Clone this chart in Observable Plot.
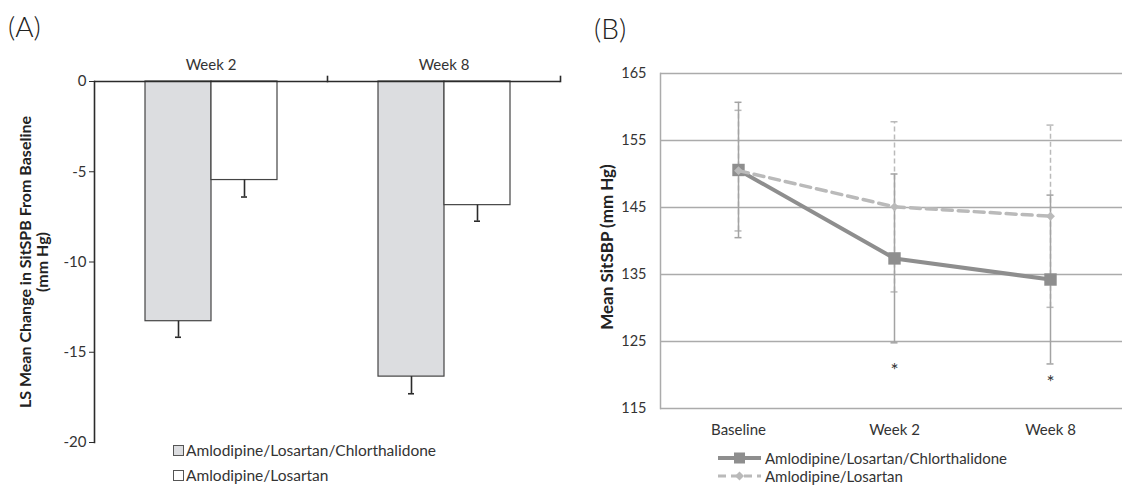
<!DOCTYPE html>
<html><head><meta charset="utf-8">
<script src="https://cdn.jsdelivr.net/npm/d3@7"></script>
<script src="https://cdn.jsdelivr.net/npm/@observablehq/plot@0.6"></script>
<style>
html,body{margin:0;padding:0;background:#fff;}
body{width:1122px;height:488px;overflow:hidden;position:relative;font-family:Lato,"Open Sans",sans-serif;color:#333;}
#a,#b{position:absolute;top:0;}
#a{left:0;} #b{left:560px;}
.tag{position:absolute;font-size:28px;font-weight:300;color:#222;line-height:1;}
.leg{position:absolute;color:#333;white-space:nowrap;line-height:16px;height:16px;display:flex;align-items:center;}
.leg svg{display:block;margin-right:2px;}
</style></head><body>
<div id="a"></div><div id="b"></div>
<div class="tag" style="left:8px;top:12px">(A)</div>
<div class="tag" style="left:594px;top:14px">(B)</div>
<div id="legA"></div><div id="legB"></div>
<script>
// ---------- data ----------
const seriesNames = ["Amlodipine/Losartan/Chlorthalidone", "Amlodipine/Losartan"];

// Panel A: LS mean change from baseline
const weeksA = ["Week 2", "Week 8"];
const changeTriple = [-13.28, -16.35];
const changeDual = [-5.46, -6.85];
const errTriple = [0.89, 0.95];
const errDual = [0.94, 0.89];
const yTicksA = [0, -5, -10, -15, -20];

// Panel B: mean SitSBP
const timepoints = ["Baseline", "Week 2", "Week 8"];
const meanTriple = [150.6, 137.4, 134.25];
const meanDual = [150.5, 145.1, 143.7];
const errBTriple = [10.1, 12.6, 12.6];
const errBDual = [9.0, 12.7, 13.6];
const starTimes = ["Week 2", "Week 8"];
const starLevels = [121.3, 119.5];
const yTicksB = [115, 125, 135, 145, 155, 165];

const fontStack = "Lato, 'Open Sans', sans-serif";

// ---------- panel A ----------
const fillA = ["#dcdde0", "#ffffff"];
const rowsA = weeksA.flatMap((w, i) => [
  {week: w, series: seriesNames[0], value: changeTriple[i], err: errTriple[i]},
  {week: w, series: seriesNames[1], value: changeDual[i], err: errDual[i]}
]);
const ink = "#2b2b2b";
const yMidA = (yTicksA[0] + yTicksA[yTicksA.length - 1]) / 2;
const chartA = Plot.plot({
  width: 562, height: 462,
  marginLeft: 93, marginRight: 2, marginTop: 81, marginBottom: 20,
  style: {fontFamily: fontStack, color: "#333", background: "transparent"},
  fx: {domain: weeksA, padding: 0, label: null},
  x: {domain: seriesNames, paddingInner: 0, paddingOuter: 0.75, axis: null},
  y: {domain: [-20, 0]},
  color: {domain: seriesNames, range: fillA},
  marks: [
    Plot.barY(rowsA, {fx: "week", x: "series", y: "value", fill: "series", stroke: "#444", strokeWidth: 1.2}),
    Plot.ruleX(rowsA, {fx: "week", x: "series", y1: "value", y2: d => d.value - d.err, stroke: ink, strokeWidth: 1.6}),
    Plot.tickY(rowsA, {fx: "week", x: "series", y: d => d.value - d.err, stroke: ink, strokeWidth: 1.6, insetLeft: 30, insetRight: 30}),
    Plot.ruleY([0], {stroke: ink, strokeWidth: 1.6}),
    Plot.frame({anchor: "right", insetTop: -5, insetBottom: 361, stroke: ink, strokeWidth: 1.6}),
    Plot.frame({anchor: "left", fx: [weeksA[0]], stroke: ink, strokeWidth: 1.6}),
    Plot.axisY({ticks: yTicksA, tickSize: 5, tickPadding: 3, tickFormat: d => String(d), fontSize: 15, label: null, stroke: ink}),
    Plot.axisFx({anchor: "top", tickSize: 0, tickPadding: 12, fontSize: 15, label: null}),
    Plot.text([{week: weeksA[0], y: yMidA, t: "LS Mean Change in SitSPB From Baseline\n(mm Hg)"}], {
      fx: "week", y: "y", text: "t", frameAnchor: "left", textAnchor: "middle", rotate: -90, dx: -60, lineHeight: 1.05,
      fontWeight: "bold", fontSize: 16, fill: "#222"
    })
  ]
});
document.getElementById("a").append(chartA);

// ---------- panel B ----------
const rowsB = timepoints.flatMap((t, i) => [
  {time: t, series: seriesNames[0], mean: meanTriple[i], err: errBTriple[i]},
  {time: t, series: seriesNames[1], mean: meanDual[i], err: errBDual[i]}
]);
const tri = rowsB.filter(d => d.series === seriesNames[0]);
const dua = rowsB.filter(d => d.series === seriesNames[1]);
const stars = starTimes.map((t, i) => ({time: t, y: starLevels[i]}));
const cTri = "#8e8e8e", cTriErr = "#a3a3a3", cDual = "#bababa", grid = "#ababab";
const chartB = Plot.plot({
  width: 562, height: 488,
  marginLeft: 100, marginRight: 0, marginTop: 73, marginBottom: 80,
  style: {fontFamily: fontStack, color: "#333", background: "transparent"},
  x: {domain: timepoints, range: [100, 568], padding: 0, label: null},
  y: {domain: [115, 165]},
  marks: [
    Plot.ruleY(yTicksB, {stroke: grid, strokeWidth: 1.5}),
    Plot.frame({anchor: "left", stroke: grid, strokeWidth: 1.5}),
    // error bars
    Plot.ruleX(dua, {x: "time", y1: d => d.mean - d.err, y2: d => d.mean + d.err, stroke: cDual, strokeWidth: 1.5, strokeDasharray: "5,3"}),
    Plot.tickY(dua, {x: "time", y: d => d.mean + d.err, stroke: cDual, strokeWidth: 1.5, insetLeft: 74.5, insetRight: 74.5}),
    Plot.tickY(dua, {x: "time", y: d => d.mean - d.err, stroke: cDual, strokeWidth: 1.5, insetLeft: 74.5, insetRight: 74.5}),
    Plot.ruleX(tri, {x: "time", y1: d => d.mean - d.err, y2: d => d.mean + d.err, stroke: cTriErr, strokeWidth: 1.5}),
    Plot.tickY(tri, {x: "time", y: d => d.mean + d.err, stroke: cTriErr, strokeWidth: 1.5, insetLeft: 74.5, insetRight: 74.5}),
    Plot.tickY(tri, {x: "time", y: d => d.mean - d.err, stroke: cTriErr, strokeWidth: 1.5, insetLeft: 74.5, insetRight: 74.5}),
    // lines and markers
    Plot.lineY(tri, {x: "time", y: "mean", stroke: cTri, strokeWidth: 4}),
    Plot.dot(tri, {x: "time", y: "mean", symbol: "square", r: 7, fill: cTri}),
    Plot.lineY(dua, {x: "time", y: "mean", stroke: cDual, strokeWidth: 3.5, strokeDasharray: "10,6"}),
    Plot.dot(dua, {x: "time", y: "mean", symbol: "diamond2", r: 4, fill: cDual}),
    Plot.text(stars, {x: "time", y: "y", text: () => "*", fontSize: 19, fill: "#333", dy: 5}),
    Plot.axisY({ticks: yTicksB, tickSize: 0, tickPadding: 14, tickFormat: d => String(d), fontSize: 14.5, label: null}),
    Plot.axisX({tickSize: 0, tickPadding: 16, fontSize: 15, label: null}),
    Plot.text(["Mean SitSBP (mm Hg)"], {frameAnchor: "left", textAnchor: "middle", rotate: -90, dx: -53, dy: 6, fontWeight: "bold", fontSize: 17, fill: "#222"})
  ]
});
document.getElementById("b").append(chartB);

// ---------- legends ----------
const legA = document.getElementById("legA");
const rowTopA = [442, 467];
seriesNames.forEach((name, i) => {
  const row = document.createElement("div");
  row.className = "leg";
  row.style.fontSize = "15.5px";
  row.style.left = "173px"; row.style.top = rowTopA[i] + "px";
  row.innerHTML = `<svg width="11" height="11"><rect x="0.5" y="0.5" width="10" height="10" fill="${fillA[i]}" stroke="#555" stroke-width="1"/></svg><span>${name}</span>`;
  legA.append(row);
});
const legB = document.getElementById("legB");
const rowTopB = [450, 468];
const sym = [
  `<svg width="46" height="14"><line x1="1" y1="7" x2="44" y2="7" stroke="${cTri}" stroke-width="4"/><rect x="17" y="1.5" width="11" height="11" fill="${cTri}"/></svg>`,
  `<svg width="46" height="14"><line x1="1" y1="7" x2="44" y2="7" stroke="${cDual}" stroke-width="3" stroke-dasharray="8,5"/><path d="M22.5 2.5 L27 7 L22.5 11.5 L18 7Z" fill="${cDual}"/></svg>`
];
seriesNames.forEach((name, i) => {
  const row = document.createElement("div");
  row.className = "leg";
  row.style.fontSize = "15px";
  row.style.left = "717px"; row.style.top = rowTopB[i] + "px";
  row.innerHTML = sym[i] + `<span>${name}</span>`;
  legB.append(row);
});
</script>
</body></html>
